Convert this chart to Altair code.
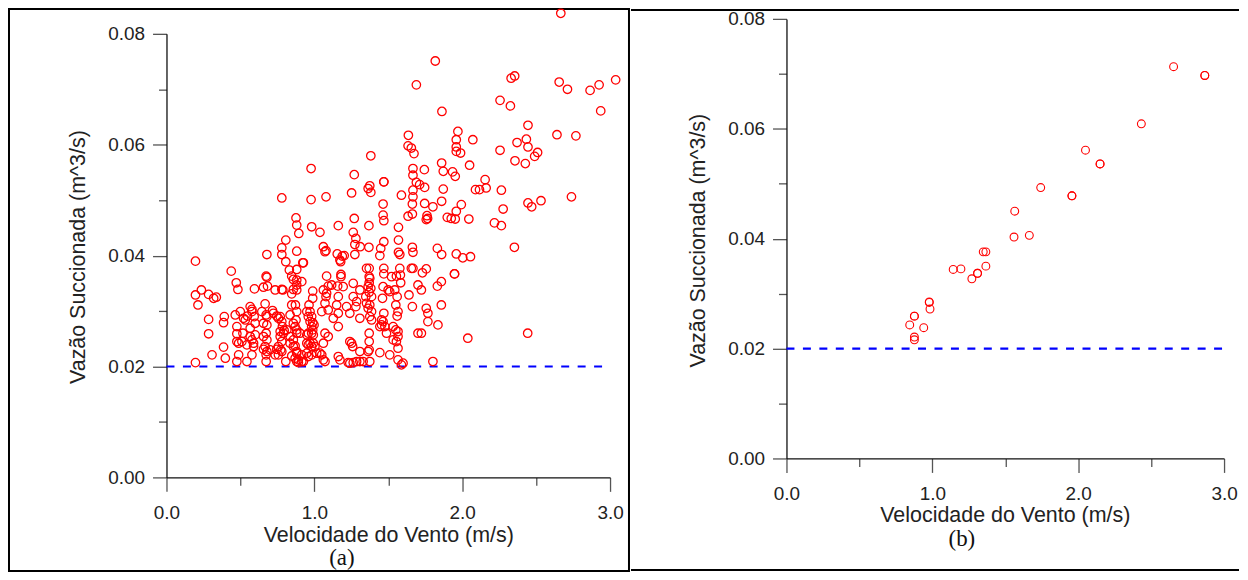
import altair as alt
import pandas as pd

# ---------------- data ----------------
# panel (a): velocidade do vento (m/s), vazao succionada (m^3/s)
a_superior = [
    (2.667, 0.0837), (1.818, 0.0751), (1.690, 0.0708), (2.331, 0.0720), (2.355, 0.0724),
    (2.656, 0.0713), (2.712, 0.0700), (2.865, 0.0698), (2.926, 0.0708), (3.038, 0.0717),
    (2.937, 0.0661), (2.256, 0.0680), (2.326, 0.0670), (1.863, 0.0660), (2.445, 0.0635),
    (1.636, 0.0617), (1.971, 0.0624), (1.960, 0.0609), (2.072, 0.0609), (2.641, 0.0618),
    (2.769, 0.0616), (2.434, 0.0610), (2.371, 0.0604), (2.445, 0.0596), (1.634, 0.0598),
    (1.656, 0.0594), (1.674, 0.0584), (1.960, 0.0596), (1.960, 0.0588), (1.989, 0.0585),
    (2.256, 0.0590), (2.510, 0.0586), (2.490, 0.0579), (2.357, 0.0571), (2.427, 0.0566),
    (1.382, 0.0580), (0.978, 0.0557), (1.861, 0.0567), (1.872, 0.0552), (1.935, 0.0551),
    (1.953, 0.0543), (2.050, 0.0563), (1.667, 0.0557), (1.667, 0.0545), (1.744, 0.0555),
    (1.270, 0.0546), (1.470, 0.0533), (1.470, 0.0533), (1.375, 0.0526), (1.364, 0.0521),
    (1.382, 0.0514), (1.252, 0.0513), (0.978, 0.0501), (1.079, 0.0506), (1.589, 0.0509),
    (1.667, 0.0518), (1.667, 0.0506), (1.663, 0.0493), (1.690, 0.0532), (1.712, 0.0528),
    (1.746, 0.0523), (2.155, 0.0537), (2.090, 0.0519), (2.117, 0.0519), (2.162, 0.0522),
    (2.265, 0.0518), (1.872, 0.0520), (1.861, 0.0498), (1.994, 0.0492), (1.802, 0.0488),
    (1.746, 0.0494), (1.465, 0.0493), (1.465, 0.0473), (1.470, 0.0463), (2.277, 0.0484),
    (2.445, 0.0495), (2.470, 0.0488), (2.533, 0.0499), (2.739, 0.0506), (1.270, 0.0467),
    (1.634, 0.0471), (1.663, 0.0475), (1.762, 0.0472), (1.766, 0.0467), (1.757, 0.0465),
    (1.899, 0.0469), (1.926, 0.0467), (1.953, 0.0466), (1.960, 0.0480), (2.045, 0.0466),
    (2.218, 0.0459), (2.265, 0.0454), (0.780, 0.0504), (0.876, 0.0468), (0.881, 0.0455),
    (0.982, 0.0452), (1.038, 0.0442), (1.162, 0.0454), (1.369, 0.0454), (1.569, 0.0451),
    (2.353, 0.0415), (0.895, 0.0440),
]

a_medio = [
    (0.807, 0.0428), (0.780, 0.0414), (0.780, 0.0402), (0.807, 0.0389), (0.881, 0.0408),
    (0.679, 0.0402), (0.196, 0.0390), (0.922, 0.0387), (0.831, 0.0374), (0.881, 0.0375),
    (0.847, 0.0363), (0.858, 0.0357), (0.881, 0.0356), (0.915, 0.0353), (0.881, 0.0347),
    (0.858, 0.0339), (0.847, 0.0331), (0.881, 0.0338), (0.438, 0.0372), (0.472, 0.0351),
    (0.483, 0.0339), (0.674, 0.0363), (0.679, 0.0361), (0.595, 0.0340), (0.656, 0.0343),
    (0.683, 0.0345), (0.735, 0.0338), (0.780, 0.0339), (0.787, 0.0338), (0.236, 0.0338),
    (0.196, 0.0329), (0.285, 0.0330), (0.319, 0.0323), (0.337, 0.0325), (0.989, 0.0336),
    (1.263, 0.0442), (1.281, 0.0431), (1.274, 0.0420), (1.310, 0.0416), (1.061, 0.0416),
    (1.079, 0.0409), (1.369, 0.0415), (1.470, 0.0425), (1.449, 0.0413), (1.443, 0.0400),
    (1.569, 0.0428), (1.569, 0.0406), (1.578, 0.0402), (1.663, 0.0415), (1.667, 0.0406),
    (1.832, 0.0413), (1.861, 0.0402), (1.960, 0.0403), (2.004, 0.0396), (2.056, 0.0398),
    (1.155, 0.0403), (1.189, 0.0399), (1.178, 0.0389), (1.202, 0.0400), (1.274, 0.0402),
    (0.926, 0.0387), (1.083, 0.0363), (1.094, 0.0345), (1.158, 0.0345), (1.180, 0.0366),
    (1.180, 0.0362), (1.263, 0.0350), (1.353, 0.0377), (1.371, 0.0377), (1.371, 0.0362),
    (1.371, 0.0351), (1.364, 0.0344), (1.382, 0.0341), (1.371, 0.0334), (1.470, 0.0377),
    (1.470, 0.0367), (1.522, 0.0362), (1.578, 0.0377), (1.555, 0.0363), (1.584, 0.0351),
    (1.656, 0.0377), (1.667, 0.0377), (1.757, 0.0376), (1.731, 0.0369), (1.948, 0.0367),
    (1.948, 0.0367), (1.832, 0.0345), (1.859, 0.0353), (1.701, 0.0347), (1.724, 0.0338),
    (1.640, 0.0329), (1.072, 0.0407), (1.173, 0.0392), (1.375, 0.0359), (1.582, 0.0365),
    (1.117, 0.0347), (1.195, 0.0344), (1.308, 0.0338), (1.061, 0.0338), (1.083, 0.0332),
    (1.465, 0.0344), (1.499, 0.0338), (1.510, 0.0335), (1.544, 0.0338),
]

a_inferior_esq = [
    (0.213, 0.0311), (0.989, 0.0323), (0.667, 0.0313), (0.872, 0.0311), (0.881, 0.0299),
    (0.964, 0.0311), (0.971, 0.0299), (0.982, 0.0290), (0.989, 0.0279), (0.998, 0.0275),
    (0.982, 0.0260), (0.989, 0.0266), (0.285, 0.0285), (0.285, 0.0259), (0.391, 0.0290),
    (0.386, 0.0279), (0.465, 0.0293), (0.499, 0.0299), (0.521, 0.0287), (0.548, 0.0291),
    (0.476, 0.0272), (0.566, 0.0308), (0.578, 0.0303), (0.593, 0.0290), (0.600, 0.0278),
    (0.645, 0.0299), (0.674, 0.0293), (0.679, 0.0275), (0.674, 0.0260), (0.656, 0.0254),
    (0.717, 0.0301), (0.746, 0.0291), (0.769, 0.0290), (0.780, 0.0281), (0.784, 0.0272),
    (0.796, 0.0265), (0.769, 0.0254), (0.780, 0.0245), (0.773, 0.0230), (0.757, 0.0221),
    (0.814, 0.0266), (0.836, 0.0254), (0.876, 0.0284), (0.870, 0.0272), (0.881, 0.0260),
    (0.858, 0.0248), (0.870, 0.0237), (0.881, 0.0224), (0.892, 0.0212), (0.949, 0.0257),
    (0.959, 0.0239), (0.982, 0.0221), (0.993, 0.0242), (0.476, 0.0259), (0.517, 0.0260),
    (0.510, 0.0245), (0.488, 0.0242), (0.566, 0.0254), (0.589, 0.0242), (0.578, 0.0221),
    (0.544, 0.0209), (0.488, 0.0221), (0.386, 0.0235), (0.398, 0.0215), (0.308, 0.0221),
    (0.196, 0.0207), (0.656, 0.0231), (0.674, 0.0221), (0.674, 0.0209), (0.701, 0.0230),
    (0.735, 0.0221), (0.746, 0.0231), (0.807, 0.0209), (0.847, 0.0219), (0.881, 0.0209),
    (0.915, 0.0209), (0.949, 0.0224), (1.004, 0.0236), (0.533, 0.0284), (0.578, 0.0299),
    (0.566, 0.0269), (0.600, 0.0257), (0.578, 0.0248), (0.589, 0.0236), (0.544, 0.0239),
    (0.476, 0.0245), (0.476, 0.0209), (0.679, 0.0290), (0.656, 0.0278), (0.679, 0.0248),
    (0.667, 0.0236), (0.679, 0.0227), (0.723, 0.0296), (0.757, 0.0287), (0.769, 0.0263),
    (0.791, 0.0260), (0.757, 0.0236), (0.780, 0.0227), (0.836, 0.0242), (0.858, 0.0236),
    (0.881, 0.0227), (0.870, 0.0215), (0.892, 0.0207), (0.847, 0.0311), (0.836, 0.0293),
    (0.858, 0.0278), (0.881, 0.0266), (0.903, 0.0260), (0.949, 0.0299), (0.959, 0.0290),
    (0.971, 0.0281), (0.982, 0.0272), (0.959, 0.0260), (0.993, 0.0257), (0.949, 0.0242),
    (0.959, 0.0218), (1.016, 0.0224), (0.982, 0.0236), (0.971, 0.0242), (0.926, 0.0209),
    (0.915, 0.0221),
]

a_inferior_dir = [
    (1.348, 0.0326), (1.387, 0.0326), (1.353, 0.0314), (1.375, 0.0311), (1.364, 0.0305),
    (1.387, 0.0299), (1.375, 0.0290), (1.387, 0.0284), (1.079, 0.0326), (1.072, 0.0314),
    (1.094, 0.0302), (1.162, 0.0326), (1.151, 0.0311), (1.162, 0.0296), (1.128, 0.0287),
    (1.162, 0.0272), (1.286, 0.0317), (1.281, 0.0308), (1.218, 0.0308), (1.240, 0.0296),
    (1.308, 0.0287), (1.263, 0.0326), (1.050, 0.0299), (1.072, 0.0260), (1.094, 0.0254),
    (1.061, 0.0242), (1.050, 0.0221), (1.072, 0.0209), (1.560, 0.0326), (1.551, 0.0311),
    (1.566, 0.0299), (1.560, 0.0291), (1.461, 0.0323), (1.470, 0.0296), (1.455, 0.0275),
    (1.477, 0.0272), (1.465, 0.0281), (1.551, 0.0266), (1.566, 0.0254), (1.533, 0.0248),
    (1.566, 0.0233), (1.510, 0.0221), (1.566, 0.0212), (1.443, 0.0225), (1.663, 0.0308),
    (1.757, 0.0305), (1.768, 0.0296), (1.836, 0.0275), (1.859, 0.0311), (1.701, 0.0260),
    (1.724, 0.0260), (2.038, 0.0251), (1.802, 0.0209), (1.240, 0.0245), (1.259, 0.0236),
    (1.308, 0.0227), (1.162, 0.0218), (1.173, 0.0212), (1.240, 0.0206), (1.286, 0.0209),
    (1.330, 0.0209), (1.371, 0.0260), (1.371, 0.0245), (1.371, 0.0230), (1.375, 0.0209),
    (1.589, 0.0203), (2.443, 0.0260), (1.768, 0.0281), (1.566, 0.0263), (1.555, 0.0245),
    (1.600, 0.0206), (1.533, 0.0272), (1.443, 0.0272), (1.455, 0.0284), (1.488, 0.0260),
    (1.308, 0.0209), (1.263, 0.0207), (1.229, 0.0207), (1.364, 0.0227), (1.252, 0.0242),
    (1.038, 0.0224), (1.061, 0.0212),
]

# panel (b)
b_pontos = [
    (2.654, 0.0713), (2.868, 0.0697), (2.868, 0.0697), (2.433, 0.0609), (2.050, 0.0561),
    (2.150, 0.0536), (2.150, 0.0536), (1.743, 0.0493), (1.957, 0.0478), (1.957, 0.0478),
    (1.565, 0.0450), (1.560, 0.0403), (1.665, 0.0406), (1.349, 0.0376), (1.367, 0.0376),
    (1.367, 0.0350), (1.310, 0.0337), (1.310, 0.0337), (1.271, 0.0327), (1.143, 0.0344),
    (1.196, 0.0345), (0.979, 0.0285), (0.979, 0.0284), (0.984, 0.0272), (0.877, 0.0259),
    (0.877, 0.0259), (0.845, 0.0243), (0.941, 0.0238), (0.877, 0.0221), (0.877, 0.0216),
]

limite_q = [0.02]
vento_ini = [0.0]
vento_fim = [3.0]
ticks_x = [0.0, 0.5, 1.0, 1.5, 2.0, 2.5, 3.0]
ticks_y = [0.00, 0.01, 0.02, 0.03, 0.04, 0.05, 0.06, 0.07, 0.08]
rotulos = ["(a)", "(b)"]
titulo_x = "Velocidade do Vento (m/s)"
titulo_y = "Vazão Succionada (m^3/s)"


def tabela(*grupos):
    linhas = [p for g in grupos for p in g]
    return pd.DataFrame({"vento": [p[0] for p in linhas], "vazao": [p[1] for p in linhas]})


FONT = "Liberation Sans"
H = 564


def painel(df, rotulo, W, xr, yr, xoff, yoff, xtx, xty, yty, lx, ly, size, sw, moldura):
    eixo_x = alt.Axis(
        values=ticks_x, offset=xoff, grid=False, title=titulo_x,
        titleX=xtx, titleY=xty, titleBaseline="alphabetic", titleAlign="center",
        titleFont=FONT, titleFontSize=21.5, titleFontWeight="normal", titleColor="#222",
        labelExpr="round(datum.value*2) % 2 == 0 ? format(datum.value, '.1f') : ''",
        labelFont=FONT, labelFontSize=19, labelColor="#222", labelPadding=12,
        labelFlush=False, labelOverlap=False, labelBound=False,
        tickSize={"condition": {"test": "round(datum.value*2) % 2 == 0", "value": 14}, "value": 8},
        tickColor="#555", tickWidth=1.3, domainColor="#111", domainWidth=1.3,
    )
    eixo_y = alt.Axis(
        values=ticks_y, offset=yoff, grid=False, title=titulo_y,
        titleX=-88, titleY=yty, titleBaseline="middle", titleAlign="center", titleAngle=-90,
        titleFont=FONT, titleFontSize=21.5, titleFontWeight="normal", titleColor="#222",
        labelExpr="round(datum.value*100) % 2 == 0 ? format(datum.value, '.2f') : ''",
        labelFont=FONT, labelFontSize=19, labelColor="#222", labelPadding=8,
        labelFlush=False, labelOverlap=False, labelBound=False,
        tickSize={"condition": {"test": "round(datum.value*100) % 2 == 0", "value": 14}, "value": 8},
        tickColor="#555", tickWidth=1.3, domainColor="#111", domainWidth=1.3,
    )
    xs = alt.Scale(domain=[0, 3], range=xr, nice=False, zero=False)
    ys = alt.Scale(domain=[0, 0.08], range=yr, nice=False, zero=False)

    pontos = alt.Chart(df).mark_point(
        shape="circle", filled=False, color="#ff0000", size=size, strokeWidth=sw, opacity=1
    ).encode(
        x=alt.X("vento:Q", scale=xs, axis=eixo_x),
        y=alt.Y("vazao:Q", scale=ys, axis=eixo_y),
    )
    lim = pd.DataFrame({"ini": vento_ini, "fim": vento_fim, "q": limite_q})
    linha = alt.Chart(lim).mark_rule(
        color="#0000ff", strokeWidth=2.2, strokeDash=[8, 8.5]
    ).encode(
        x=alt.X("ini:Q", scale=xs), x2="fim:Q", y=alt.Y("q:Q", scale=ys)
    )
    rot = alt.Chart(pd.DataFrame({"r": [rotulo]})).mark_text(
        font="Liberation Serif", fontSize=23, baseline="alphabetic", align="center", color="#111"
    ).encode(text="r:N", x=alt.value(lx), y=alt.value(ly))
    camadas = [linha, pontos, rot]
    if moldura == "caixa":
        vista = alt.ViewBackground(stroke="black", strokeWidth=2)
    else:
        vista = alt.ViewBackground(stroke="transparent", strokeWidth=0)
        topo = alt.Chart(pd.DataFrame({"r": [rotulo]})).mark_rule(
            color="black", strokeWidth=2
        ).encode(x=alt.value(0), x2=alt.value(W), y=alt.value(1))
        base = alt.Chart(pd.DataFrame({"r": [rotulo]})).mark_rule(
            color="black", strokeWidth=2
        ).encode(x=alt.value(0), x2=alt.value(W), y=alt.value(H - 1))
        camadas += [topo, base]
    return alt.layer(*camadas).properties(width=W, height=H, view=vista)


pa = painel(tabela(a_superior, a_medio, a_inferior_esq, a_inferior_dir), rotulos[0],
            622, [158, 603], [470, 25], 470 - H, -158, 380.5, 64, 248.5, 334, 558, 72, 1.3,
            "caixa")
pb = painel(tabela(b_pontos), rotulos[1],
            610, [156, 595], [451, 10], 451 - H, -156, 375, 63, 232, 332, 539, 62, 1.1,
            "aberta")

chart = alt.hconcat(pa, pb, spacing=0).configure(
    padding={"top": -4, "left": 0, "right": 0, "bottom": 0}, background="white"
)

chart.save("out.html", embed_options={"renderer": "svg", "actions": False})
